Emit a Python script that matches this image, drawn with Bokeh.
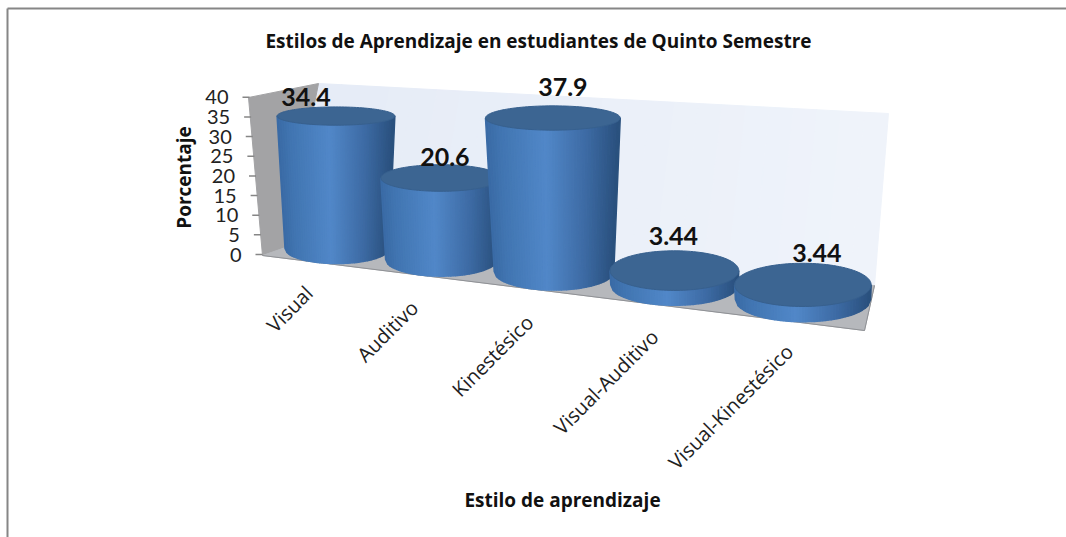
import numpy as np
from bokeh.plotting import figure
from bokeh.core.properties import value
from bokeh.embed import file_html
from bokeh.resources import INLINE

title_text = "Estilos de Aprendizaje en estudiantes de Quinto Semestre"
y_title = "Porcentaje"
x_title = "Estilo de aprendizaje"
categories = ["Visual", "Auditivo", "Kinestésico", "Visual-Auditivo", "Visual-Kinestésico"]
values = [34.4, 20.6, 37.9, 3.44, 3.44]
value_labels = ["34.4", "20.6", "37.9", "3.44", "3.44"]
y_ticks = [0, 5, 10, 15, 20, 25, 30, 35, 40]

FONT = value("Lato")
TFONT = value("Open Sans")
W, H = 1066, 537
p = figure(width=W, height=H, x_range=(0, W), y_range=(H, 0),
           output_backend="svg", toolbar_location=None, min_border=0)
p.axis.visible = False
p.grid.visible = False
p.outline_line_color = None
p.background_fill_color = "white"
p.border_fill_color = "white"

# --- oblique projection of the 3D chart box onto the page ---
def base_x(i): return 336.5 + 100.5 * i + 4.0 * i * i
def base_y(i): return 248 + 10.25 * i + 0.625 * i * i
def unit_h(i): return 3.85 + 0.1 * i
def rx_base(i): return 52 + 3.9 * i
def ry_base(i): return 15 + 1.8 * i
def rx_top(i, v): return rx_base(i) + 0.2 * v
def ry_top(i, v): return ry_base(i) - 0.17 * v
def top_x(i, v): return base_x(i) - 0.03 * v
def top_y(i, v): return base_y(i) - unit_h(i) * v

# frame
p.line([7, W], [8, 8], line_color="#868686", line_width=2)
p.line([7, 7], [8, H], line_color="#868686", line_width=2)

# back wall: a soft wash
TL, TR, BR, BL = (318, 83), (888, 113), (874, 285), (285, 247)
N = 24
xs, ys, cols = [], [], []
c0, c1 = np.array([230, 236, 247]), np.array([240, 244, 251])
for k in range(N):
    a, b = k / N, (k + 1) / N
    xs.append([TL[0] + (TR[0] - TL[0]) * a, TL[0] + (TR[0] - TL[0]) * b, BL[0] + (BR[0] - BL[0]) * b, BL[0] + (BR[0] - BL[0]) * a])
    ys.append([TL[1] + (TR[1] - TL[1]) * a, TL[1] + (TR[1] - TL[1]) * b, BL[1] + (BR[1] - BL[1]) * b, BL[1] + (BR[1] - BL[1]) * a])
    c = (c0 + (c1 - c0) * a).astype(int)
    cols.append("#%02x%02x%02x" % tuple(c))
p.patches(xs, ys, fill_color=cols, line_color=cols, line_width=1)

# side wall and floor
p.patch([248, 318, 285, 262], [97, 83, 247, 255], fill_color="#a3a3a5", line_color="#a3a3a5")
p.patch([262, 285, 874, 864], [255, 247, 285, 330], fill_color="#b6b8bc", line_color="#b6b8bc")
p.line([262, 864, 874], [255, 330, 285], line_color="#8f9195", line_width=1)

# value axis ticks
tx0 = [255 - 0.325 * t for t in y_ticks]
ty = [254 - 3.93 * t for t in y_ticks]
p.segment(tx0, ty, [x + 7 for x in tx0], ty, line_color="#868686", line_width=1.5)
p.text([x - 14 for x in tx0], ty, text=[str(t) for t in y_ticks], text_font=FONT,
       text_font_size="20px", text_align="right", text_baseline="middle", text_color="#222222")

# cylinder shading
stops = np.array([0.0, 0.12, 0.45, 0.75, 1.0])
reds = np.array([58, 66, 82, 62, 42])
greens = np.array([106, 118, 136, 108, 80])
blues = np.array([165, 178, 201, 165, 125])
def shade(t):
    return "#%02x%02x%02x" % (int(np.interp(t, stops, reds)), int(np.interp(t, stops, greens)), int(np.interp(t, stops, blues)))

for i, v in enumerate(values):
    cxb, cyb = base_x(i), base_y(i)
    cxt, cyt = top_x(i, v), top_y(i, v)
    rb, sb = rx_base(i), ry_base(i)
    rt, st = rx_top(i, v), ry_top(i, v)
    M = 48
    ang = np.arccos(np.linspace(1, -1, M + 1))
    xs, ys, cols = [], [], []
    for k in range(M):
        a0, a1 = ang[k], ang[k + 1]
        xs.append([cxt - rt * np.cos(a0), cxt - rt * np.cos(a1), cxb - rb * np.cos(a1), cxb - rb * np.cos(a0)])
        ys.append([cyt + st * np.sin(a0), cyt + st * np.sin(a1), cyb + sb * np.sin(a1), cyb + sb * np.sin(a0)])
        cols.append(shade((k + 0.5) / M))
    p.patches(xs, ys, fill_color=cols, line_color=cols, line_width=1.5)
    th = np.linspace(0, 2 * np.pi, 120)
    p.patch(cxt + rt * np.cos(th), cyt + st * np.sin(th), fill_color="#3c6592", line_color="#37608e", line_width=1)

# data labels
lab_dx = [-30, 4, 10, -1, 14]
lab_dy = [-19, -21, -31, -35, -32]
p.text([top_x(i, v) + lab_dx[i] for i, v in enumerate(values)],
       [top_y(i, v) + lab_dy[i] for i, v in enumerate(values)],
       text=value_labels, text_font=FONT, text_font_style="bold", text_font_size="25px",
       text_align="center", text_baseline="middle", text_color="#111111")

# category labels
cat_x = [base_x(i) - 28 + 0.9 * i * i for i in range(5)]
cat_y = [289 + 14.6 * i for i in range(5)]
p.text(cat_x, cat_y, text=categories, text_font=TFONT, text_font_size="20px",
       text_align="right", text_baseline="middle", angle=np.pi / 4, text_color="#222222")

# titles
p.text([538], [40], text=[title_text], text_font=TFONT, text_font_style="bold", text_font_size="19px",
       text_align="center", text_baseline="middle", text_color="#111111")
p.text([562], [499], text=[x_title], text_font=TFONT, text_font_style="bold", text_font_size="19px",
       text_align="center", text_baseline="middle", text_color="#111111")
p.text([183], [177], text=[y_title], text_font=TFONT, text_font_style="bold", text_font_size="19px",
       text_align="center", text_baseline="middle", angle=np.pi / 2, text_color="#111111")

open("out.html", "w").write(file_html(p, INLINE))
